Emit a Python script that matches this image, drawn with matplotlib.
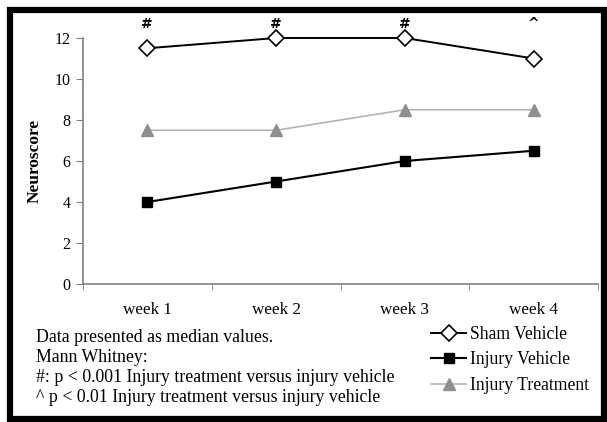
import matplotlib
matplotlib.use("Agg")
import matplotlib.pyplot as plt
from matplotlib.patches import Rectangle
import numpy as np

# median neuroscore per week
weeks = ["week 1", "week 2", "week 3", "week 4"]
sham_vehicle = [11.5, 12, 12, 11]
injury_vehicle = [4, 5, 6, 6.5]
injury_treatment = [7.5, 7.5, 8.5, 8.5]
sig_marks = ["#", "#", "#", "^"]

notes = [
    "Data presented as median values.",
    "Mann Whitney:",
    "#: p < 0.001 Injury treatment versus injury vehicle",
    "^ p < 0.01 Injury treatment versus injury vehicle",
]

plt.rcParams["font.family"] = ["Liberation Serif", "DejaVu Serif"]

W, H = 607, 422
fig = plt.figure(figsize=(W / 100, H / 100), dpi=100)
ax = fig.add_axes([83 / W, 1 - 284 / H, (598 - 83) / W, (284 - 38) / H])

x = np.arange(len(weeks))
ax.plot(x, sham_vehicle, color="black", lw=1.4, marker="D", ms=8,
        mfc="white", mec="black", mew=1.2, label="Sham Vehicle",
        zorder=4, clip_on=False)
ax.plot(x, injury_vehicle, color="black", lw=1.5, marker="s", ms=7,
        mfc="black", mec="black", label="Injury Vehicle", zorder=3)
ax.plot(x, injury_treatment, color="#b4b4b4", lw=1.2, marker="^", ms=9,
        mfc="#8f8f8f", mec="#8f8f8f", label="Injury Treatment", zorder=3)

# significance marks above each week
for xi, m in zip(x, sig_marks):
    ax.text(xi, 12.7, m, ha="center", va="center", fontsize=10,
            fontweight="bold", family="DejaVu Sans", clip_on=False)

ax.set_xlim(-0.5, len(weeks) - 0.5)
ax.set_ylim(0, 12)
ax.set_yticks(range(0, 13, 2))
ax.set_xticks(x)
ax.set_xticklabels(weeks)
ax.set_xticks(np.arange(-0.5, len(weeks)), minor=True)
ax.tick_params(axis="x", which="major", length=0, pad=13, labelsize=12.3)
ax.tick_params(axis="x", which="minor", length=4, color="#808080", direction="out")
ax.tick_params(axis="y", length=5, color="#808080", labelsize=11.5, pad=4)

for s in ["top", "right"]:
    ax.spines[s].set_visible(False)
for s in ["left", "bottom"]:
    ax.spines[s].set_color("#808080")
    ax.spines[s].set_linewidth(1.2)

ax.set_ylabel("Neuroscore", fontsize=12.5, fontweight="bold")
ax.yaxis.set_label_coords(-(83 - 43) / (598 - 83), 0.5)

# footnotes
for t, yy in zip(notes, [337, 358, 378, 397]):
    fig.text(36 / W, 1 - yy / H, t, fontsize=12.8, va="center", ha="left")

fig.legend(handles=ax.get_lines(), loc="upper left",
           bbox_to_anchor=(431 / W, 1 - 326 / H), frameon=False,
           fontsize=12.7, borderpad=0, borderaxespad=0, handlelength=2.0,
           handletextpad=0.2, labelspacing=0.48)

# heavy black frame round the figure
fig.patches.append(Rectangle((10 / W, 3 / H), (604 - 10) / W, (419 - 10) / H,
                             transform=fig.transFigure, fill=False,
                             edgecolor="black", linewidth=4.5))

fig.savefig("out.png", dpi=100)
